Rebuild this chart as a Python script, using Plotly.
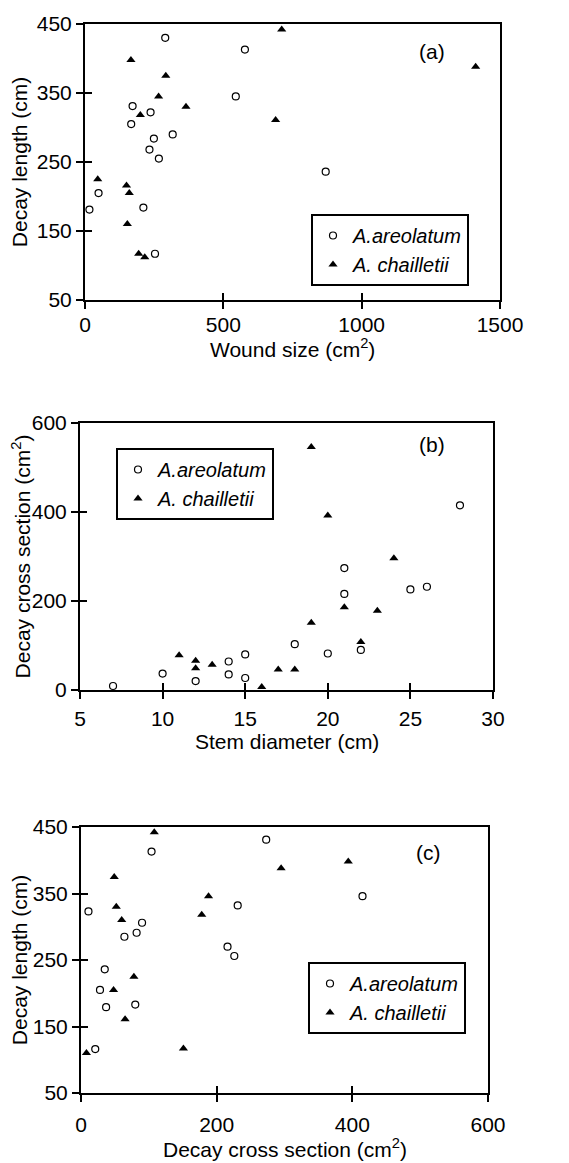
import plotly.graph_objects as go

# ---------------- data ----------------
# Panel (a): wound size (cm2) vs decay length (cm)
a_areo_wound = [290, 578, 545, 172, 237, 167, 317, 249, 233, 267, 870, 49, 16, 211, 253]
a_areo_len = [430, 413, 345, 331, 322, 305, 290, 284, 268, 255, 236, 205, 181, 184, 117]
a_chai_wound = [711, 166, 1412, 292, 266, 365, 200, 689, 46, 150, 160, 153, 194, 216]
a_chai_len = [442, 398, 388, 375, 345, 330, 318, 311, 225, 216, 205, 160, 117, 112]

# Panel (b): stem diameter (cm) vs decay cross section (cm2)
b_areo_diam = [7, 10, 12, 14, 14, 15, 15, 18, 20, 21, 21, 22, 25, 26, 28]
b_areo_cs = [9, 37, 20, 64, 35, 80, 27, 103, 82, 274, 216, 90, 226, 232, 415]
b_chai_diam = [11, 12, 12, 13, 16, 17, 18, 19, 21, 22, 23, 19, 20, 24]
b_chai_cs = [78, 66, 49, 57, 7, 46, 46, 151, 186, 108, 178, 546, 392, 296]

# Panel (c): decay cross section (cm2) vs decay length (cm)
c_areo_cs = [11, 104, 64, 82, 90, 216, 226, 231, 273, 415, 35, 28, 37, 80, 21]
c_areo_len = [323, 413, 285, 291, 306, 270, 256, 332, 431, 346, 236, 205, 179, 183, 116]
c_chai_cs = [108, 49, 52, 60, 178, 188, 295, 394, 78, 48, 65, 151, 8]
c_chai_len = [442, 375, 330, 310, 318, 346, 388, 398, 225, 205, 161, 117, 110]

series_names = ["<i>A.areolatum</i>", "<i>A. chailletii</i>"]
panel_labels = ["(a)", "(b)", "(c)"]
xtitles = ["Wound size (cm<sup>2</sup>)", "Stem diameter (cm)", "Decay cross section (cm<sup>2</sup>)"]
ytitles = ["Decay length (cm)", "Decay cross section (cm<sup>2</sup>)", "Decay length (cm)"]

# ---------------- figure ----------------
W, H = 569, 1163
FAM = "Liberation Sans, Arial, sans-serif"
FONT = dict(family=FAM, size=21, color="black")
LFONT = dict(family=FAM, size=20, color="black")

fig = go.Figure()

circle = dict(symbol="circle-open", size=7, color="black", line=dict(width=1.2, color="black"))
tri = dict(symbol="triangle-up", size=8, color="black")

panels = [
    ("", "legend", a_areo_wound, a_areo_len, a_chai_wound, a_chai_len),
    ("2", "legend2", b_areo_diam, b_areo_cs, b_chai_diam, b_chai_cs),
    ("3", "legend3", c_areo_cs, c_areo_len, c_chai_cs, c_chai_len),
]
for i, (sx, lg, x1, y1, x2, y2) in enumerate(panels):
    fig.add_trace(go.Scatter(x=x1, y=y1, mode="markers", marker=circle, name=series_names[0],
                             xaxis="x" + sx, yaxis="y" + sx, legend=lg, cliponaxis=False))
    fig.add_trace(go.Scatter(x=x2, y=y2, mode="markers", marker=tri, name=series_names[1],
                             xaxis="x" + sx, yaxis="y" + sx, legend=lg, cliponaxis=False))
    # invisible copy on overlay axes that carry the inward half of the crossing ticks
    k = i + 4
    fig.add_trace(go.Scatter(x=x1, y=y1, mode="markers", marker=dict(opacity=0, size=1),
                             xaxis=f"x{k}", yaxis=f"y{k}", showlegend=False, hoverinfo="skip"))


def px_x(p):
    return p / W


def px_y(p):
    return 1 - p / H


# plot areas in pixels: (left, right), (top, bottom)
doms = [
    ((77, 492), (16, 292)),
    ((72, 485), (415, 682)),
    ((73, 480), (819, 1085)),
]
xranges = [[0, 1500], [5, 30], [0, 600]]
yranges = [[50, 450], [0, 600], [50, 450]]
xdt = [500, 5, 200]
ydt = [100, 200, 100]
xlab_standoff = [-2, 2, 5]
xtitle_offset = [48, 51, 55]   # px below the x axis line

axis_common = dict(showgrid=False, zeroline=False, showline=True, linecolor="black", linewidth=2,
                   mirror=True, ticks="outside", ticklen=7, tickwidth=2, tickcolor="black",
                   tickfont=FONT, title_font=FONT, automargin=False)
inner_common = dict(ticks="inside", ticklen=7, tickwidth=2, tickcolor="black",
                    showticklabels=False, showgrid=False, zeroline=False, showline=False,
                    automargin=False)

layout = dict(width=W, height=H, margin=dict(l=0, r=0, t=0, b=0, autoexpand=False),
              paper_bgcolor="white", plot_bgcolor="white", font=FONT)

for i in range(3):
    sx = "" if i == 0 else str(i + 1)
    (xl, xr), (yt, yb) = doms[i]
    layout["xaxis" + sx] = dict(axis_common, domain=[px_x(xl), px_x(xr)], range=xranges[i],
                                dtick=xdt[i], tick0=xranges[i][0], anchor="y" + sx,
                                ticklabelstandoff=xlab_standoff[i])
    layout["yaxis" + sx] = dict(axis_common, domain=[px_y(yb), px_y(yt)], range=yranges[i],
                                dtick=ydt[i], tick0=yranges[i][0], anchor="x" + sx,
                                title=dict(text=ytitles[i], standoff=4))
    k = i + 4
    layout[f"xaxis{k}"] = dict(inner_common, overlaying="x" + sx, anchor="y" + sx,
                               range=xranges[i], dtick=xdt[i], tick0=xranges[i][0])
    layout[f"yaxis{k}"] = dict(inner_common, overlaying="y" + sx, anchor="x" + sx,
                               range=yranges[i], dtick=ydt[i], tick0=yranges[i][0])

legend_common = dict(bgcolor="white", bordercolor="black", borderwidth=2, font=LFONT,
                     itemwidth=30, xanchor="left", yanchor="top", tracegroupgap=0)
layout["legend"] = dict(legend_common, x=px_x(303), y=px_y(206))
layout["legend2"] = dict(legend_common, x=px_x(108), y=px_y(440))
layout["legend3"] = dict(legend_common, x=px_x(300), y=px_y(954))

fig.update_layout(**layout)

label_pos = [(0.836, 0.899), (0.852, 0.918), (0.853, 0.906)]
for i in range(3):
    sx = "" if i == 0 else str(i + 1)
    fig.add_annotation(text=panel_labels[i], xref=f"x{sx} domain", yref=f"y{sx} domain",
                       x=label_pos[i][0], y=label_pos[i][1], xanchor="center", yanchor="middle",
                       showarrow=False, font=FONT)
    (xl, xr), (yt, yb) = doms[i]
    fig.add_annotation(text=xtitles[i], xref=f"x{sx} domain", yref="paper",
                       x=0.5, y=px_y(yb + xtitle_offset[i]), xanchor="center", yanchor="middle",
                       showarrow=False, font=FONT)

fig.write_html("out.html")
